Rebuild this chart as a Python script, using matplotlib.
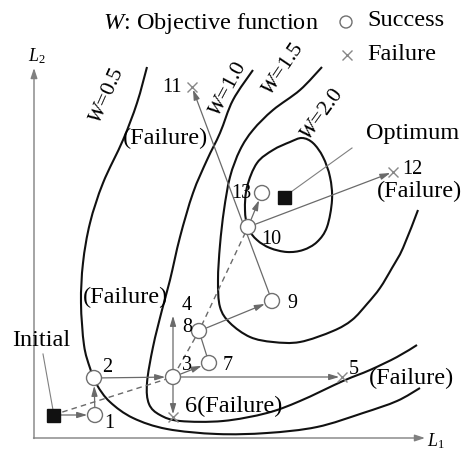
import numpy as np
import matplotlib
matplotlib.use("Agg")
import matplotlib.pyplot as plt
from matplotlib.path import Path
from matplotlib.patches import PathPatch, Circle, Rectangle

plt.rcParams["font.family"] = ["Liberation Serif", "DejaVu Serif"]
plt.rcParams["mathtext.fontset"] = "custom"
plt.rcParams["mathtext.rm"] = "Liberation Serif"
plt.rcParams["mathtext.it"] = "Liberation Serif:italic"

# ---- trial points of the search (diagram units, y grows downward) ----
pt_names = ["S", "1", "2", "3", "4", "5", "6", "7", "8", "9", "10", "11", "12", "13", "Opt"]
pt_x = [53, 95, 94, 173, 173, 342, 173, 209, 199, 272, 248, 192, 393, 262, 284]
pt_y = [415, 415, 378, 377, 313, 377, 417, 363, 331, 301, 227, 87, 172, 193, 197]

success_pts = ["1", "2", "3", "7", "8", "9", "10", "13"]
failure_pts = ["5", "6", "11", "12"]
square_pts = ["S", "Opt"]

# moves between trials: (from, to)
arrow_moves = [("S", "1"), ("1", "2"), ("2", "3"), ("3", "5"), ("3", "4"), ("3", "6"),
               ("3", "7"), ("8", "9"), ("9", "11"), ("10", "12"), ("10", "13")]
plain_links = [("8", "7")]
dashed_path = ["S", "3", "8", "10"]

# ---- contour lines of the objective function W ----
w05_x = [147, 137, 123, 103, 90, 83, 81, 84, 90, 97, 110, 133, 167, 217, 267, 317, 363, 397, 420]
w05_y = [67, 103, 140, 183, 223, 263, 303, 345, 368, 385, 402, 418, 429, 434, 433, 427, 413, 401, 388]
w10_x = [253, 233, 220, 207, 193, 180, 170, 162, 153, 147, 149, 160, 180, 223, 267, 300, 343, 370, 397, 417]
w10_y = [70, 100, 133, 160, 193, 237, 280, 310, 347, 383, 404, 415, 421, 421, 413, 401, 381, 370, 357, 345]
w15_x = [322, 300, 273, 253, 240, 230, 224, 220, 218, 220, 230, 250, 273, 300, 333, 352, 367, 380, 392, 403, 418]
w15_y = [67, 90, 110, 130, 150, 177, 210, 245, 280, 307, 323, 337, 342, 342, 331, 320, 304, 288, 268, 248, 210]
w20_x = [302, 313, 323, 330, 332, 327, 317, 303, 287, 270, 257, 248, 245, 247, 257, 273, 290]
w20_y = [138, 143, 157, 177, 200, 227, 242, 250, 252, 248, 240, 228, 210, 187, 163, 150, 142]

contour_labels = ["0.5", "1.0", "1.5", "2.0"]
label_x = [107, 228, 283, 322]
label_y = [96, 89, 70, 115]
label_rot = [66, 62, 56, 54]

pos = {n: (x, y) for n, x, y in zip(pt_names, pt_x, pt_y)}

LINE = "#6a6a6a"
R = 7.5  # circle radius in diagram units (pixels)


def smooth_path(xs, ys, closed=False):
    """Cubic Bezier path through the given points (Catmull-Rom tangents)."""
    P = np.column_stack([xs, ys]).astype(float)
    n = len(P)

    def at(i):
        if closed:
            return P[i % n]
        return P[min(max(i, 0), n - 1)]

    verts = [P[0]]
    codes = [Path.MOVETO]
    nseg = n if closed else n - 1
    for i in range(nseg):
        p0, p1, p2, p3 = at(i - 1), at(i), at(i + 1), at(i + 2)
        c1 = p1 + (p2 - p0) / 6.0
        c2 = p2 - (p3 - p1) / 6.0
        verts += [c1, c2, p2]
        codes += [Path.CURVE4] * 3
    return Path(verts, codes)


fig = plt.figure(figsize=(4.68, 4.5), dpi=100)
ax = fig.add_axes([0, 0, 1, 1])
ax.set_xlim(0, 468)
ax.set_ylim(450, 0)
ax.set_aspect("equal")
ax.axis("off")

# coordinate axes
axis_style = dict(arrowstyle="-|>,head_length=0.6,head_width=0.2", color="#808080",
                  lw=1.0, shrinkA=0, shrinkB=0, mutation_scale=10)
ax.annotate("", xy=(34, 68), xytext=(34, 438.5), arrowprops=axis_style)
ax.annotate("", xy=(425, 438), xytext=(33.5, 438), arrowprops=axis_style)
ax.text(37, 56, "$L_2$", fontsize=13, ha="center", va="center")
ax.text(436, 441, "$L_1$", fontsize=13, ha="center", va="center")

# contours
for xs, ys, closed in [(w05_x, w05_y, False), (w10_x, w10_y, False),
                       (w15_x, w15_y, False), (w20_x, w20_y, True)]:
    ax.add_patch(PathPatch(smooth_path(xs, ys, closed), fill=False, ec="#111111",
                           lw=1.5, zorder=2))
for lab, x, y, r in zip(contour_labels, label_x, label_y, label_rot):
    ax.text(x, y, "$W$=" + lab, fontsize=16, rotation=r, ha="center", va="center",
            rotation_mode="anchor", zorder=3)

# dashed route of the accepted bases
dx = [pos[n][0] for n in dashed_path]
dy = [pos[n][1] for n in dashed_path]
ax.plot(dx, dy, ls=(0, (4, 3)), color=LINE, lw=1.0, zorder=3)

# moves
for a, b in arrow_moves:
    sa = 5.6 if a in success_pts else 0
    sb = 5.6 if b in success_pts else 2
    ax.annotate("", xy=pos[b], xytext=pos[a],
                arrowprops=dict(arrowstyle="-|>,head_length=0.6,head_width=0.18",
                                color=LINE, lw=0.9, shrinkA=sa, shrinkB=sb,
                                mutation_scale=10), zorder=4)
for a, b in plain_links:
    ax.plot([pos[a][0], pos[b][0]], [pos[a][1], pos[b][1]], color=LINE, lw=0.9, zorder=4)

# leader lines to the labels
ax.plot([43, 53], [354, 410], color="#808080", lw=0.8, zorder=3)
ax.plot([284, 352], [197, 148], color="#808080", lw=0.8, zorder=3)

# markers
for n in success_pts:
    ax.add_patch(Circle(pos[n], R, fc="white", ec="#707070", lw=1.0, zorder=5))
for n in failure_pts:
    ax.plot(*pos[n], marker="x", ms=7, mew=1.0, color="#888888", zorder=5)
for n in square_pts:
    x, y = pos[n]
    ax.add_patch(Rectangle((x - 6.5, y - 6.5), 13, 13, fc="#111111", ec="#111111", zorder=5))

# text labels
FS_NUM = 14.5
FS_WORD = 17.5
num_labels = [("1", 109, 424), ("2", 107, 367), ("3", 187, 366), ("4", 187, 305),
              ("5", 354, 370), ("7", 228, 366), ("8", 187, 328), ("9", 292, 303),
              ("10", 271, 239), ("11", 172, 87), ("12", 412, 170), ("13", 241, 194)]
for t, x, y in num_labels:
    ax.text(x, y, t, fontsize=FS_NUM, ha="center", va="center", zorder=6)

word_labels = [("6(Failure)", 234, 406), ("(Failure)", 166, 138), ("(Failure)", 126, 297),
               ("(Failure)", 420, 191), ("(Failure)", 412, 378), ("Initial", 41, 340),
               ("Optimum", 413, 133)]
for t, x, y in word_labels:
    ax.text(x, y, t, fontsize=FS_WORD, ha="center", va="center", zorder=6)

# key
ax.text(103, 23, "$W$: Objective function", fontsize=FS_WORD, ha="left", va="center")
ax.add_patch(Circle((346, 22), 6, fc="white", ec="#707070", lw=1.0))
ax.text(367, 21, "Success", fontsize=FS_WORD, ha="left", va="center")
ax.plot(347, 55, marker="x", ms=7, mew=1.0, color="#888888")
ax.text(367, 54, "Failure", fontsize=FS_WORD, ha="left", va="center")

fig.savefig("out.png", dpi=100)
